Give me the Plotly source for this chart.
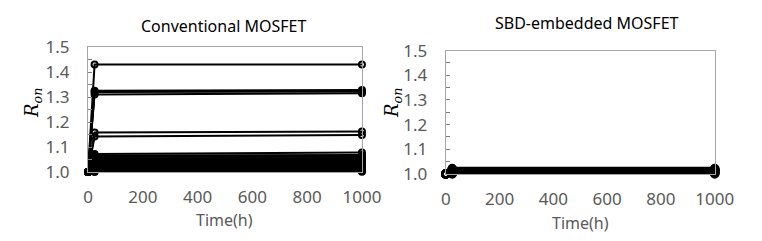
import plotly.graph_objects as go

# Time points (h)
time_h = [0, 24, 1000]

# Conventional MOSFET: normalized Ron at 24 h and 1000 h (all start at 1.0)
conv_start = 1.0
conv_24h = [1.43, 1.325, 1.32, 1.31, 1.158, 1.142, 1.072, 1.066, 1.06, 1.055,
            1.05, 1.046, 1.042, 1.038, 1.034, 1.03, 1.026, 1.022, 1.018, 1.014,
            1.01, 1.006, 1.003, 1.0]
conv_1000h = [1.43, 1.328, 1.322, 1.315, 1.162, 1.148, 1.078, 1.068, 1.062, 1.056,
              1.052, 1.048, 1.044, 1.04, 1.036, 1.032, 1.028, 1.024, 1.02, 1.016,
              1.012, 1.008, 1.004, 1.001]

# SBD-embedded MOSFET
sbd_start = 1.0
sbd_24h = [1.022, 1.02, 1.018, 1.016, 1.014, 1.012, 1.01, 1.008, 1.006, 1.004, 1.002, 1.0]
sbd_1000h = [1.022, 1.02, 1.018, 1.016, 1.014, 1.012, 1.01, 1.008, 1.006, 1.004, 1.002, 1.0]

x_ticks = [0, 200, 400, 600, 800, 1000]
y_ticks = [1.0, 1.1, 1.2, 1.3, 1.4, 1.5]

fig = go.Figure()

marker = dict(symbol="circle-open", size=6, color="black", line=dict(width=2, color="black"))

for v24, v1000 in zip(conv_24h, conv_1000h):
    fig.add_trace(go.Scatter(x=time_h, y=[conv_start, v24, v1000], mode="lines+markers",
                             line=dict(color="black", width=2), marker=marker,
                             cliponaxis=False, showlegend=False, xaxis="x", yaxis="y"))

marker2 = dict(symbol="circle-open", size=7, color="black", line=dict(width=2.5, color="black"))
for v24, v1000 in zip(sbd_24h, sbd_1000h):
    fig.add_trace(go.Scatter(x=time_h, y=[sbd_start, v24, v1000], mode="lines+markers",
                             line=dict(color="black", width=3.5), marker=marker2,
                             cliponaxis=False, showlegend=False, xaxis="x2", yaxis="y2"))

frame = "#a6a6a6"
tickfont = dict(family="Noto Sans", size=17, color="#595959")

def xax(domain, anchor):
    return dict(domain=domain, anchor=anchor, range=[0, 1000], tickvals=x_ticks,
                showgrid=False, zeroline=False, showline=True, linecolor=frame, linewidth=1,
                mirror=True, ticks="", tickfont=tickfont, ticklabelstandoff=10,
                automargin=False)

def yax(domain, anchor):
    return dict(domain=domain, anchor=anchor, range=[1.0, 1.5], tickvals=y_ticks,
                tickformat=".1f", showgrid=False, zeroline=False, showline=True,
                linecolor=frame, linewidth=1, mirror=True, ticks="inside", ticklen=4,
                tickcolor="#808080",
                minor=dict(dtick=0.05, tick0=1.0, ticks="inside", ticklen=4, tickcolor="#808080"),
                tickfont=tickfont, ticklabelstandoff=14, automargin=False)

def ann(text, x, y, size, color, family="Noto Sans", angle=0):
    return dict(text=text, x=x / 762, y=1 - y / 241, xref="paper", yref="paper",
                xanchor="center", yanchor="middle", textangle=angle, showarrow=False,
                font=dict(family=family, size=size, color=color))

fig.update_layout(
    width=762, height=241,
    margin=dict(l=0, r=0, t=0, b=0, autoexpand=False),
    paper_bgcolor="white", plot_bgcolor="white",
    xaxis=xax([0.1155, 0.475], "y"),
    yaxis=yax([0.286, 0.805], "x"),
    xaxis2=xax([0.585, 0.938], "y2"),
    yaxis2=yax([0.278, 0.790], "x2"),
    annotations=[
        ann("Conventional MOSFET", 223, 26, 16, "black"),
        ann("SBD-embedded MOSFET", 587, 23, 16, "black"),
        ann("Time(h)", 225, 220, 16, "#595959"),
        ann("Time(h)", 580, 223, 16, "#595959"),
        ann("<i>R<sub>on</sub></i>", 33, 103, 18, "black", "DejaVu Serif", -90),
        ann("<i>R<sub>on</sub></i>", 393, 103, 18, "black", "DejaVu Serif", -90),
    ],
)

fig.write_html("out.html")
